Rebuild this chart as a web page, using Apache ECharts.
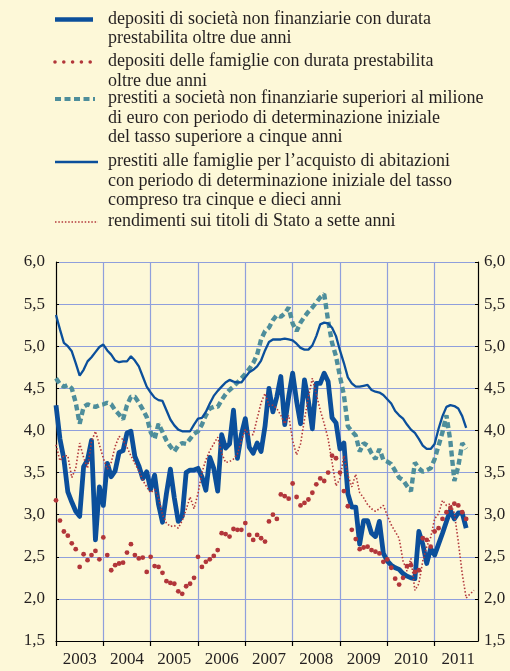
<!DOCTYPE html>
<html>
<head>
<meta charset="utf-8">
<script src="https://cdn.jsdelivr.net/npm/echarts@6/dist/echarts.min.js"></script>
<style>
html,body{margin:0;padding:0;background:#fdf8d8;}
#main{width:510px;height:671px;}
</style>
</head>
<body>
<div id="main"></div>
<script>
// mesi da gen 2003 a dic 2011
var mesi = [];
for (var a = 2003; a <= 2011; a++) {
	for (var m = 1; m <= 12; m++) mesi.push(a + '-' + (m < 10 ? '0' + m : m));
}

var depSocieta = [4.30,3.90,3.66,3.27,3.15,3.04,2.98,3.57,3.65,3.88,2.70,3.33,
	3.11,3.61,3.45,3.52,3.74,3.76,3.97,3.99,3.69,3.58,3.43,3.51,
	3.30,3.47,3.12,2.91,3.25,3.54,3.20,2.92,2.98,3.50,3.53,3.53,
	3.55,3.45,3.29,3.68,3.55,3.28,3.95,3.79,3.84,4.24,3.67,3.95,
	4.14,3.80,3.73,3.85,3.75,4.05,4.50,4.22,4.40,4.64,4.07,4.40,
	4.68,4.35,4.08,4.60,4.35,4.02,4.56,4.56,4.68,4.58,4.15,4.09,
	3.78,3.85,3.25,3.09,3.09,2.65,2.93,2.93,2.78,2.74,2.92,2.54,
	2.45,2.40,2.37,2.35,2.30,2.27,2.25,2.24,2.80,2.65,2.42,2.60,
	2.52,2.65,2.78,2.92,3.05,2.95,3.02,3.02,2.84];

var depFamiglie = [3.17,2.93,2.80,2.75,2.66,2.59,2.38,2.53,2.46,2.52,2.57,2.47,
	2.73,2.52,2.34,2.40,2.42,2.43,2.55,2.65,2.52,2.48,2.49,2.32,
	2.50,2.39,2.38,2.31,2.21,2.19,2.18,2.09,2.06,2.15,2.18,2.25,
	2.50,2.38,2.44,2.47,2.51,2.58,2.78,2.77,2.74,2.83,2.82,2.82,
	2.90,2.76,2.70,2.76,2.72,2.68,2.92,3.00,2.95,3.24,3.22,3.19,
	3.37,3.21,3.11,3.14,3.18,3.26,3.36,3.43,3.40,3.50,3.70,3.67,
	3.50,3.28,3.10,2.82,2.71,2.59,2.61,2.62,2.58,2.56,2.54,2.44,
	2.47,2.37,2.24,2.17,2.25,2.39,2.40,2.32,2.34,2.72,2.70,2.62,
	2.80,2.84,2.95,3.03,3.08,3.13,3.11,3.03,2.95];

var prestSocieta = [4.62,4.55,4.52,4.54,4.50,4.33,4.08,4.28,4.31,4.29,4.28,4.30,
	4.31,4.33,4.31,4.24,4.19,4.13,4.30,4.40,4.40,4.33,4.25,4.16,
	3.98,3.90,4.08,3.98,3.88,3.81,3.75,3.82,3.85,3.84,3.90,3.96,
	3.99,4.07,4.18,4.26,4.28,4.28,4.36,4.43,4.48,4.52,4.57,4.62,
	4.67,4.73,4.80,4.90,5.08,5.18,5.22,5.31,5.37,5.35,5.39,5.46,
	5.27,5.18,5.28,5.35,5.41,5.46,5.52,5.58,5.62,5.30,5.04,4.88,
	4.64,4.42,4.05,3.99,3.94,3.75,3.85,3.82,3.73,3.66,3.78,3.65,
	3.63,3.60,3.52,3.44,3.41,3.34,3.28,3.62,3.55,3.51,3.53,3.55,
	3.66,3.82,3.98,4.18,3.87,3.40,3.57,3.85,3.78];

var prestFamiglie = [5.37,5.20,5.04,5.00,4.94,4.80,4.65,4.72,4.82,4.87,4.93,4.99,
	5.02,4.95,4.90,4.83,4.81,4.82,4.82,4.88,4.83,4.76,4.64,4.52,
	4.45,4.39,4.36,4.35,4.24,4.13,4.06,4.01,3.99,3.99,3.99,4.07,
	4.14,4.15,4.22,4.32,4.41,4.47,4.52,4.57,4.60,4.58,4.57,4.57,
	4.63,4.69,4.72,4.76,4.83,4.95,5.05,5.08,5.08,5.08,5.09,5.08,
	5.07,5.03,4.98,4.96,4.96,5.01,5.12,5.26,5.28,5.27,5.22,5.12,
	4.95,4.80,4.63,4.56,4.52,4.52,4.53,4.54,4.48,4.46,4.45,4.42,
	4.37,4.32,4.23,4.18,4.14,4.07,4.01,3.97,3.90,3.82,3.78,3.78,
	3.84,4.02,4.17,4.28,4.30,4.29,4.26,4.17,4.03];

var rendBtp7 = [3.83,3.64,3.70,3.70,3.44,3.55,3.85,3.68,3.55,3.87,3.99,3.83,
	3.67,3.54,3.62,3.81,3.93,3.89,3.80,3.70,3.61,3.52,3.41,3.33,
	3.26,3.30,3.20,3.00,2.90,2.86,2.87,2.84,2.93,3.06,3.21,3.07,
	3.25,3.50,3.65,3.76,3.84,3.92,3.73,3.62,3.63,3.66,3.72,3.88,
	4.01,3.95,3.95,4.14,4.33,4.44,4.30,4.30,4.26,4.18,4.08,4.18,
	3.88,3.71,3.84,4.13,4.40,4.62,4.43,4.24,4.08,3.90,3.62,3.34,
	3.43,3.70,3.47,3.33,3.48,3.26,3.20,3.12,3.07,3.04,3.07,3.11,
	2.99,2.88,2.80,2.72,2.45,2.33,2.48,2.10,2.18,2.45,2.62,2.73,
	2.95,3.01,3.17,3.11,3.13,3.02,2.68,2.30,2.01,2.06,2.10];

var BLU = '#0b4f9b', TEAL = '#4e8e9b', ROSSO = '#b2363a', GRIGLIA = '#8f9fdc', TESTO = '#231f20';
var FONT = '"Liberation Serif", "DejaVu Serif", serif';

var voci = [
	{testo: 'depositi di società non finanziarie con durata\nprestabilita oltre due anni', y: 19.5, x2: 93,
		stile: {stroke: BLU, lineWidth: 4.5}},
	{testo: 'depositi delle famiglie con durata prestabilita\noltre due anni', y: 62, x2: 93,
		stile: {stroke: ROSSO, lineWidth: 3.6, lineDash: [0, 8.8], lineCap: 'round'}},
	{testo: 'prestiti a società non finanziarie superiori al milione\ndi euro con periodo di determinazione iniziale\ndel tasso superiore a cinque anni', y: 99, x2: 95,
		stile: {stroke: TEAL, lineWidth: 4, lineDash: [6, 3.5]}},
	{testo: 'prestiti alle famiglie per l\u2019acquisto di abitazioni\ncon periodo di determinazione iniziale del tasso\ncompreso tra cinque e dieci anni', y: 162, x2: 98,
		stile: {stroke: BLU, lineWidth: 2.5}},
	{testo: 'rendimenti sui titoli di Stato a sette anni', y: 222, x2: 98,
		stile: {stroke: ROSSO, lineWidth: 1.5, lineDash: [1.5, 1.8]}}
];
var legenda = [];
voci.forEach(function (v) {
	legenda.push({type: 'line', shape: {x1: 55, y1: v.y, x2: v.x2, y2: v.y}, style: v.stile, silent: true});
	legenda.push({type: 'text', x: 108, y: v.y - 10, style: {
		text: v.testo, fill: TESTO, fontSize: 18, fontFamily: FONT, lineHeight: 19.5,
		verticalAlign: 'top', align: 'left'}, silent: true});
});

function virgola(v) { return v.toFixed(1).replace('.', ','); }

var myChart = echarts.init(document.getElementById('main'));
var option = {
	backgroundColor: '#fdf8d8',
	animation: false,
	grid: {left: 56, right: 32, top: 262, bottom: 30},
	graphic: legenda,
	xAxis: {
		type: 'category',
		data: mesi,
		boundaryGap: false,
		axisLine: {show: true, lineStyle: {color: '#000', width: 1.2}},
		axisTick: {show: true, length: 5, interval: function (i) { return i % 12 === 0; }, lineStyle: {color: '#000', width: 1.2}},
		splitLine: {show: true, interval: function (i) { return i % 12 === 0 && i > 0; }, lineStyle: {color: GRIGLIA, width: 1.2}},
		axisLabel: {
			interval: function (i) { return i % 12 === 6; },
			formatter: function (v) { return v.slice(0, 4); },
			color: TESTO, fontSize: 17, fontFamily: FONT, margin: 10
		}
	},
	yAxis: [
		{
			type: 'value', min: 1.5, max: 6, interval: 0.5, position: 'left',
			axisLine: {show: true, lineStyle: {color: '#000', width: 1.2}},
			axisTick: {show: true, inside: true, length: 3, lineStyle: {color: '#000'}},
			splitLine: {show: true, lineStyle: {color: GRIGLIA, width: 1.2}},
			axisLabel: {formatter: virgola, color: TESTO, fontSize: 17, fontFamily: FONT, margin: 11}
		},
		{
			type: 'value', min: 1.5, max: 6, interval: 0.5, position: 'right',
			axisLine: {show: true, lineStyle: {color: '#000', width: 1.2}},
			axisTick: {show: true, inside: true, length: 3, lineStyle: {color: '#000'}},
			splitLine: {show: false},
			axisLabel: {formatter: virgola, color: TESTO, fontSize: 17, fontFamily: FONT, margin: 6}
		}
	],
	series: [
		{name: 'depositi di società', type: 'line', data: depSocieta, showSymbol: false, symbol: 'none',
			lineStyle: {color: BLU, width: 4.8, join: 'round'}},
		{name: 'depositi delle famiglie', type: 'line', data: depFamiglie, showSymbol: true, showAllSymbol: true,
			symbol: 'circle', symbolSize: 4.8,
			itemStyle: {color: ROSSO}, lineStyle: {width: 0, opacity: 0}},
		{name: 'prestiti a società', type: 'line', data: prestSocieta, showSymbol: false, symbol: 'none',
			lineStyle: {color: TEAL, width: 4.4, type: [6, 3.5]}},
		{name: 'prestiti alle famiglie', type: 'line', data: prestFamiglie, showSymbol: false, symbol: 'none',
			lineStyle: {color: BLU, width: 2.3}},
		{name: 'rendimenti titoli di Stato', type: 'line', data: rendBtp7, showSymbol: false, symbol: 'none',
			lineStyle: {color: ROSSO, width: 1.6, type: [1.5, 2]}}
	]
};
myChart.setOption(option);
</script>
</body>
</html>
